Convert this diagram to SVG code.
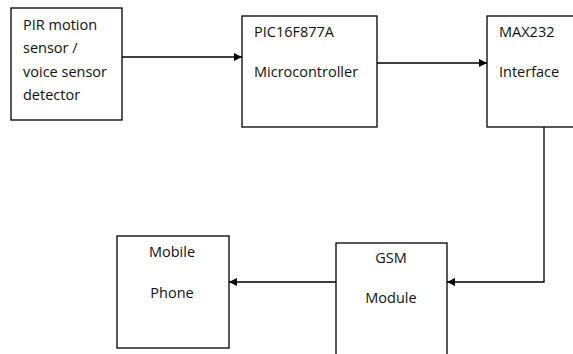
<svg xmlns="http://www.w3.org/2000/svg" width="573" height="354" viewBox="0 0 573 354">
<style>
.box{fill:#fff;stroke:#000;stroke-width:1.3}
.t{font-family:"Open Sans","Liberation Sans",sans-serif;font-size:14.5px;fill:#111}
.c{text-anchor:middle}
.ln{fill:none;stroke:#000;stroke-width:1.3}
</style>
<defs>
<marker id="ah" viewBox="0 0 10 10" refX="10" refY="5" markerWidth="8" markerHeight="8" markerUnits="userSpaceOnUse" orient="auto">
<path d="M0,0 L10,5 L0,10 z" fill="#000"/>
</marker>
</defs>
<rect width="573" height="354" fill="#fff"/>
<g id="connectors">
<line class="ln" x1="122" y1="57" x2="242" y2="57" marker-end="url(#ah)"/>
<line class="ln" x1="377" y1="63" x2="487" y2="63" marker-end="url(#ah)"/>
<polyline class="ln" points="544,127 544,282 447,282" marker-end="url(#ah)"/>
<line class="ln" x1="336" y1="282" x2="229" y2="282" marker-end="url(#ah)"/>
</g>
<g id="pir">
<rect class="box" x="11" y="8" width="111" height="112"/>
<text class="t" x="23" y="30">PIR motion</text>
<text class="t" x="23" y="53">sensor /</text>
<text class="t" x="23" y="77">voice sensor</text>
<text class="t" x="23" y="100">detector</text>
</g>
<g id="pic">
<rect class="box" x="242" y="16" width="135" height="111"/>
<text class="t" x="254" y="37">PIC16F877A</text>
<text class="t" x="254" y="77">Microcontroller</text>
</g>
<g id="max">
<rect class="box" x="487" y="16" width="90" height="111"/>
<text class="t" x="499" y="37">MAX232</text>
<text class="t" x="499" y="77">Interface</text>
</g>
<g id="gsm">
<rect class="box" x="336" y="243" width="111" height="112"/>
<text class="t c" x="391" y="263">GSM</text>
<text class="t c" x="391" y="303">Module</text>
</g>
<g id="mobile">
<rect class="box" x="117" y="236" width="112" height="112"/>
<text class="t c" x="172" y="257">Mobile</text>
<text class="t c" x="172" y="298">Phone</text>
</g>
</svg>
